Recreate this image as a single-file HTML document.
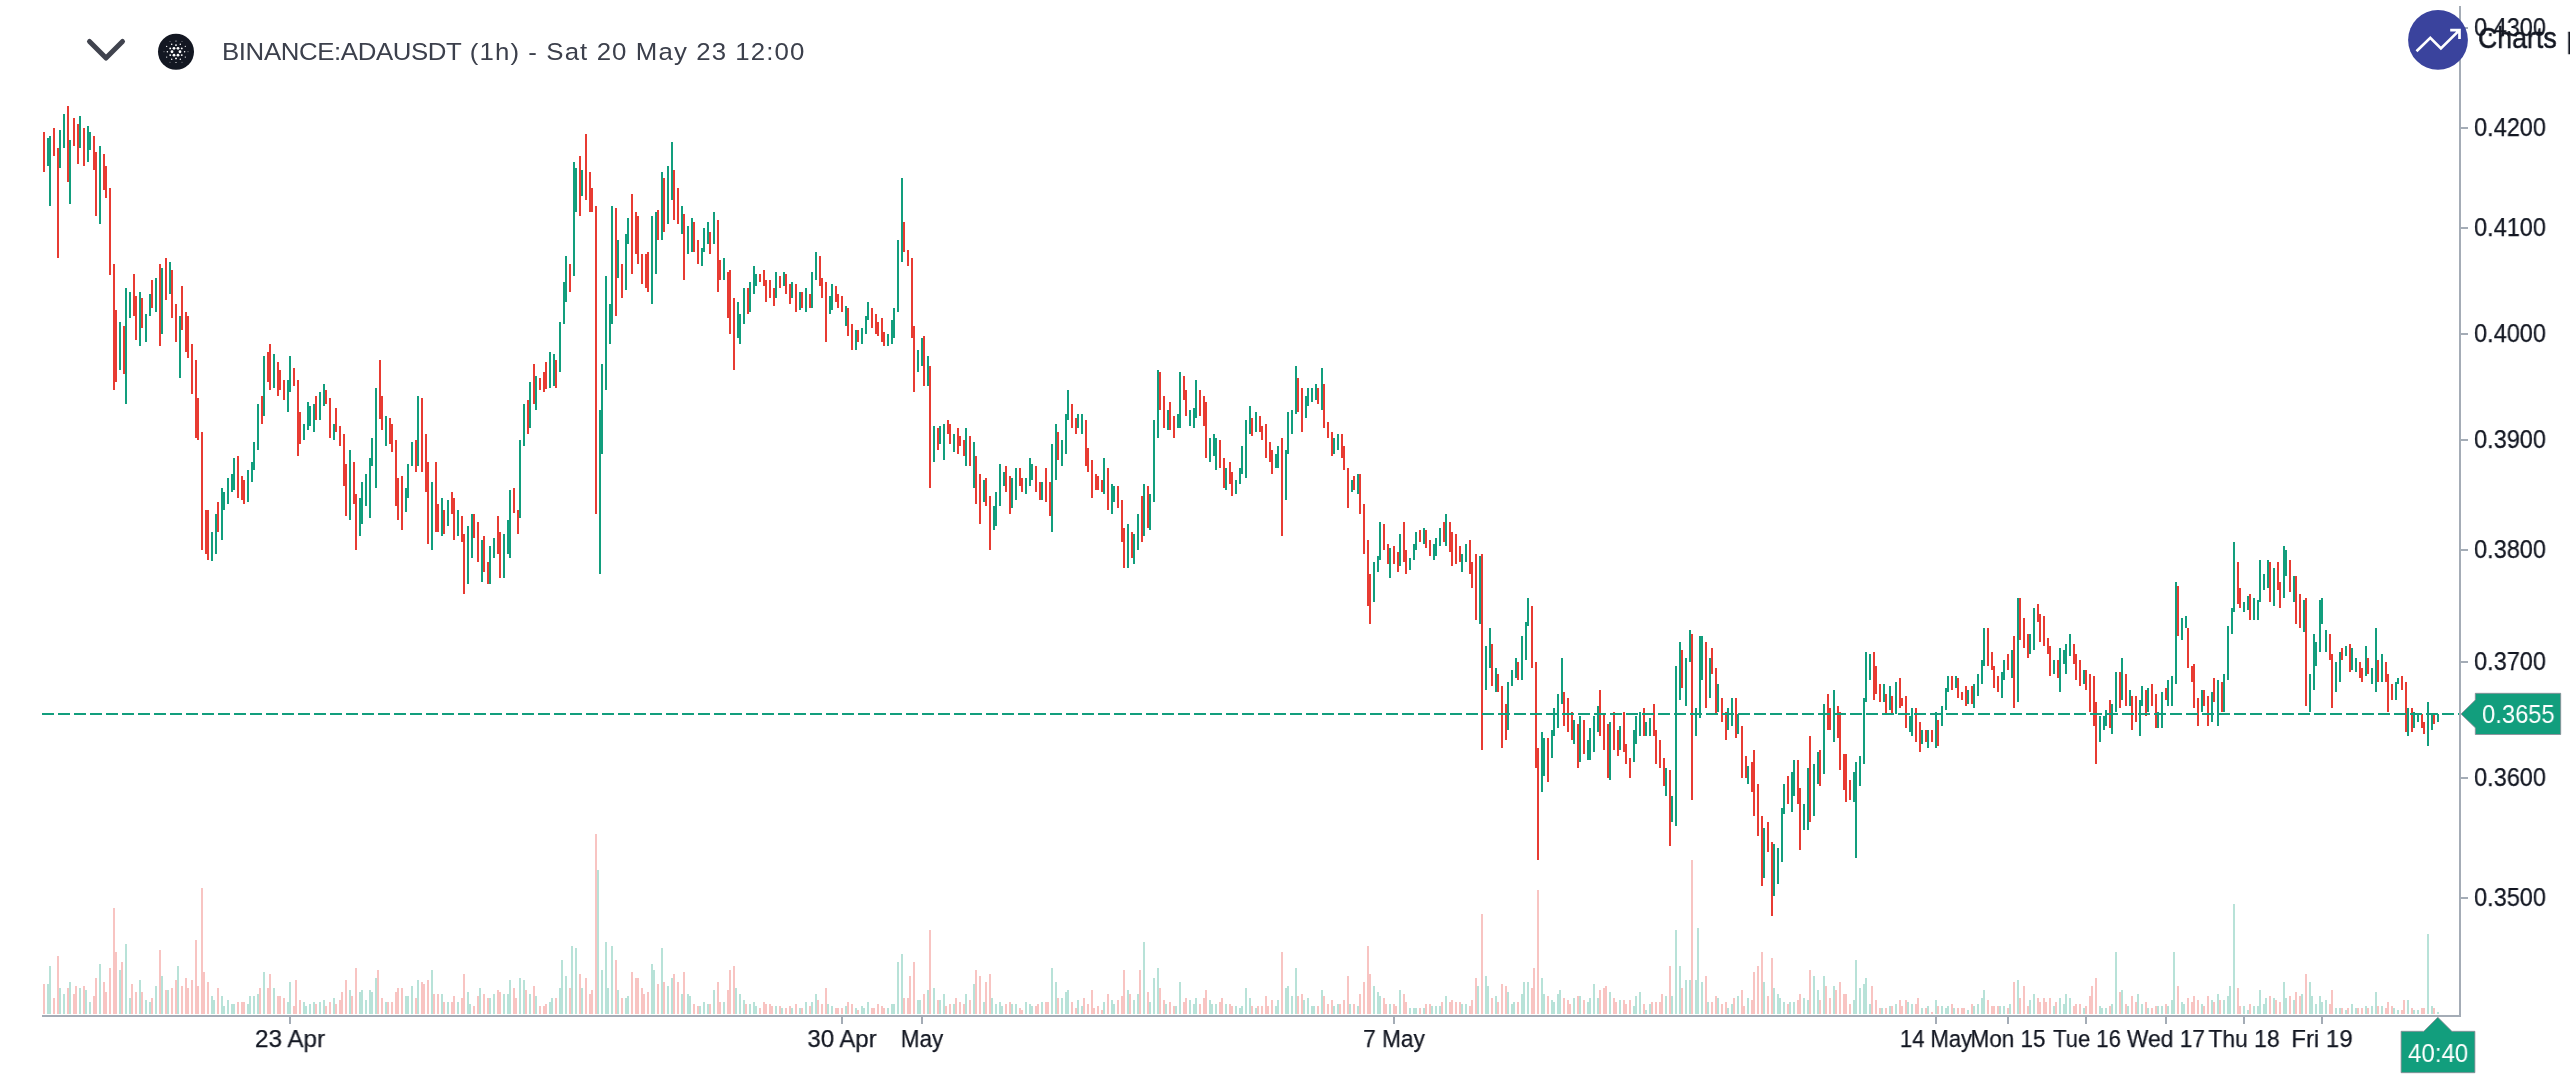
<!DOCTYPE html>
<html><head><meta charset="utf-8"><title>BINANCE:ADAUSDT</title>
<style>
html,body{margin:0;padding:0;background:#fff;}
body{width:2570px;height:1082px;position:relative;overflow:hidden;font-family:"Liberation Sans",sans-serif;color:#131722;}
.t{position:absolute;white-space:nowrap;line-height:1;will-change:transform;}
.yl{font-size:26px;left:2473.5px;transform-origin:0 50%;transform:scaleX(0.905);-webkit-text-stroke:0.25px #131722;}
.xl{font-size:24.5px;top:1027px;-webkit-text-stroke:0.25px #131722;}
#title{left:222px;top:40.3px;font-size:24.5px;color:#3c404c;letter-spacing:0.5px;transform-origin:0 0;transform:scaleX(1.054);}
#charts{left:2478px;top:23.2px;font-size:29.5px;color:#131722;word-spacing:2.8px;-webkit-text-stroke:0.55px #131722;transform-origin:0 50%;transform:scaleX(0.905);}
#plab{left:2481.5px;top:701.4px;font-size:26px;color:#fff;transform-origin:0 50%;transform:scaleX(0.914);}
#tlab{left:2407.8px;top:1040.4px;font-size:26px;color:#fff;transform-origin:0 50%;transform:scaleX(0.926);}
</style></head><body>
<svg width="2570" height="1082" viewBox="0 0 2570 1082" shape-rendering="crispEdges" style="position:absolute;left:0;top:0">
<path fill="#b8e2d8" d="M47 984h2V1014h-2zM49 966h2V1014h-2zM59 988h2V1014h-2zM63 994h2V1014h-2zM69 982h2V1014h-2zM79 988h2V1014h-2zM85 990h2V1014h-2zM89 1002h2V1014h-2zM99 964h2V1014h-2zM119 970h2V1014h-2zM125 944h2V1014h-2zM129 998h2V1014h-2zM139 980h2V1014h-2zM145 1000h2V1014h-2zM149 1002h2V1014h-2zM155 986h2V1014h-2zM161 976h2V1014h-2zM167 990h2V1014h-2zM177 966h2V1014h-2zM211 996h2V1014h-2zM213 1000h2V1014h-2zM221 996h2V1014h-2zM223 1006h2V1014h-2zM227 1000h2V1014h-2zM231 1004h2V1014h-2zM233 1004h2V1014h-2zM247 1004h2V1014h-2zM249 996h2V1014h-2zM253 996h2V1014h-2zM257 994h2V1014h-2zM263 972h2V1014h-2zM273 988h2V1014h-2zM287 1002h2V1014h-2zM289 982h2V1014h-2zM303 1002h2V1014h-2zM305 1006h2V1014h-2zM309 1004h2V1014h-2zM313 1002h2V1014h-2zM319 1002h2V1014h-2zM323 1000h2V1014h-2zM333 998h2V1014h-2zM349 990h2V1014h-2zM359 992h2V1014h-2zM361 990h2V1014h-2zM365 1000h2V1014h-2zM369 990h2V1014h-2zM371 992h2V1014h-2zM375 978h2V1014h-2zM385 1002h2V1014h-2zM405 996h2V1014h-2zM407 996h2V1014h-2zM411 986h2V1014h-2zM417 980h2V1014h-2zM431 970h2V1014h-2zM441 994h2V1014h-2zM447 1002h2V1014h-2zM457 1002h2V1014h-2zM467 992h2V1014h-2zM469 1004h2V1014h-2zM479 988h2V1014h-2zM489 998h2V1014h-2zM493 994h2V1014h-2zM503 994h2V1014h-2zM507 994h2V1014h-2zM509 980h2V1014h-2zM519 978h2V1014h-2zM523 980h2V1014h-2zM529 994h2V1014h-2zM535 996h2V1014h-2zM549 1002h2V1014h-2zM551 998h2V1014h-2zM559 988h2V1014h-2zM561 960h2V1014h-2zM565 976h2V1014h-2zM571 946h2V1014h-2zM575 948h2V1014h-2zM581 988h2V1014h-2zM597 870h2V1014h-2zM601 970h2V1014h-2zM605 942h2V1014h-2zM607 988h2V1014h-2zM611 946h2V1014h-2zM617 990h2V1014h-2zM625 998h2V1014h-2zM627 996h2V1014h-2zM651 964h2V1014h-2zM653 970h2V1014h-2zM661 948h2V1014h-2zM667 986h2V1014h-2zM671 978h2V1014h-2zM681 994h2V1014h-2zM687 994h2V1014h-2zM689 996h2V1014h-2zM699 1006h2V1014h-2zM703 1002h2V1014h-2zM707 1004h2V1014h-2zM713 990h2V1014h-2zM723 1002h2V1014h-2zM735 988h2V1014h-2zM739 994h2V1014h-2zM743 1000h2V1014h-2zM749 1004h2V1014h-2zM753 1002h2V1014h-2zM755 1006h2V1014h-2zM775 1006h2V1014h-2zM781 1008h2V1014h-2zM791 1008h2V1014h-2zM799 1008h2V1014h-2zM805 1002h2V1014h-2zM811 1002h2V1014h-2zM815 994h2V1014h-2zM827 1004h2V1014h-2zM831 1006h2V1014h-2zM845 1006h2V1014h-2zM855 1008h2V1014h-2zM861 1006h2V1014h-2zM863 1008h2V1014h-2zM867 1002h2V1014h-2zM887 1008h2V1014h-2zM891 1004h2V1014h-2zM893 1004h2V1014h-2zM897 962h2V1014h-2zM901 954h2V1014h-2zM917 1000h2V1014h-2zM919 1000h2V1014h-2zM927 990h2V1014h-2zM933 988h2V1014h-2zM939 1000h2V1014h-2zM943 994h2V1014h-2zM953 1004h2V1014h-2zM965 994h2V1014h-2zM973 984h2V1014h-2zM983 1002h2V1014h-2zM991 998h2V1014h-2zM995 1004h2V1014h-2zM999 1002h2V1014h-2zM1001 1006h2V1014h-2zM1011 1004h2V1014h-2zM1015 1004h2V1014h-2zM1025 1002h2V1014h-2zM1029 1004h2V1014h-2zM1031 1006h2V1014h-2zM1041 1002h2V1014h-2zM1051 968h2V1014h-2zM1055 982h2V1014h-2zM1061 998h2V1014h-2zM1065 992h2V1014h-2zM1067 990h2V1014h-2zM1077 1000h2V1014h-2zM1081 1006h2V1014h-2zM1103 1002h2V1014h-2zM1111 1000h2V1014h-2zM1113 1004h2V1014h-2zM1127 990h2V1014h-2zM1133 1000h2V1014h-2zM1137 994h2V1014h-2zM1143 942h2V1014h-2zM1149 1002h2V1014h-2zM1153 978h2V1014h-2zM1157 968h2V1014h-2zM1165 1004h2V1014h-2zM1175 1006h2V1014h-2zM1179 982h2V1014h-2zM1189 1000h2V1014h-2zM1193 1004h2V1014h-2zM1195 998h2V1014h-2zM1209 1000h2V1014h-2zM1211 1004h2V1014h-2zM1215 1004h2V1014h-2zM1225 1004h2V1014h-2zM1235 1006h2V1014h-2zM1239 1008h2V1014h-2zM1241 1006h2V1014h-2zM1245 988h2V1014h-2zM1249 998h2V1014h-2zM1255 1008h2V1014h-2zM1275 1006h2V1014h-2zM1277 1000h2V1014h-2zM1285 988h2V1014h-2zM1287 986h2V1014h-2zM1291 996h2V1014h-2zM1295 968h2V1014h-2zM1303 1000h2V1014h-2zM1307 998h2V1014h-2zM1311 1006h2V1014h-2zM1313 1006h2V1014h-2zM1321 990h2V1014h-2zM1333 1006h2V1014h-2zM1337 1004h2V1014h-2zM1349 1004h2V1014h-2zM1357 1006h2V1014h-2zM1373 986h2V1014h-2zM1377 992h2V1014h-2zM1379 996h2V1014h-2zM1389 1004h2V1014h-2zM1399 990h2V1014h-2zM1409 1008h2V1014h-2zM1413 1008h2V1014h-2zM1415 1008h2V1014h-2zM1423 1008h2V1014h-2zM1431 1006h2V1014h-2zM1435 1006h2V1014h-2zM1439 1006h2V1014h-2zM1445 996h2V1014h-2zM1461 1004h2V1014h-2zM1465 1004h2V1014h-2zM1477 986h2V1014h-2zM1485 976h2V1014h-2zM1487 986h2V1014h-2zM1495 996h2V1014h-2zM1507 992h2V1014h-2zM1511 1004h2V1014h-2zM1513 1002h2V1014h-2zM1521 994h2V1014h-2zM1523 982h2V1014h-2zM1527 982h2V1014h-2zM1541 978h2V1014h-2zM1543 994h2V1014h-2zM1551 1000h2V1014h-2zM1553 1002h2V1014h-2zM1557 994h2V1014h-2zM1559 990h2V1014h-2zM1573 998h2V1014h-2zM1579 996h2V1014h-2zM1587 1002h2V1014h-2zM1589 998h2V1014h-2zM1593 984h2V1014h-2zM1597 998h2V1014h-2zM1609 992h2V1014h-2zM1619 1000h2V1014h-2zM1633 1006h2V1014h-2zM1635 996h2V1014h-2zM1639 992h2V1014h-2zM1645 1010h2V1014h-2zM1649 1004h2V1014h-2zM1665 996h2V1014h-2zM1671 996h2V1014h-2zM1675 930h2V1014h-2zM1679 966h2V1014h-2zM1685 980h2V1014h-2zM1689 980h2V1014h-2zM1695 980h2V1014h-2zM1697 928h2V1014h-2zM1701 982h2V1014h-2zM1707 1002h2V1014h-2zM1717 998h2V1014h-2zM1727 1008h2V1014h-2zM1731 1004h2V1014h-2zM1737 996h2V1014h-2zM1747 998h2V1014h-2zM1763 982h2V1014h-2zM1773 988h2V1014h-2zM1777 994h2V1014h-2zM1779 998h2V1014h-2zM1783 1002h2V1014h-2zM1789 1002h2V1014h-2zM1793 1002h2V1014h-2zM1803 998h2V1014h-2zM1807 1000h2V1014h-2zM1813 976h2V1014h-2zM1817 990h2V1014h-2zM1823 976h2V1014h-2zM1833 986h2V1014h-2zM1853 1000h2V1014h-2zM1855 960h2V1014h-2zM1859 988h2V1014h-2zM1863 984h2V1014h-2zM1865 978h2V1014h-2zM1869 1004h2V1014h-2zM1881 1008h2V1014h-2zM1889 1006h2V1014h-2zM1895 1004h2V1014h-2zM1907 1002h2V1014h-2zM1911 1004h2V1014h-2zM1921 1008h2V1014h-2zM1927 1006h2V1014h-2zM1935 1000h2V1014h-2zM1941 1006h2V1014h-2zM1945 1008h2V1014h-2zM1947 1006h2V1014h-2zM1953 1008h2V1014h-2zM1967 1010h2V1014h-2zM1973 1006h2V1014h-2zM1977 1004h2V1014h-2zM1981 998h2V1014h-2zM1983 990h2V1014h-2zM1999 1006h2V1014h-2zM2003 1006h2V1014h-2zM2009 1004h2V1014h-2zM2017 980h2V1014h-2zM2029 1000h2V1014h-2zM2033 994h2V1014h-2zM2053 1006h2V1014h-2zM2059 998h2V1014h-2zM2063 1004h2V1014h-2zM2065 994h2V1014h-2zM2069 998h2V1014h-2zM2083 1008h2V1014h-2zM2099 1006h2V1014h-2zM2101 1008h2V1014h-2zM2105 1008h2V1014h-2zM2111 1004h2V1014h-2zM2115 952h2V1014h-2zM2121 990h2V1014h-2zM2127 1006h2V1014h-2zM2137 994h2V1014h-2zM2141 1004h2V1014h-2zM2147 1008h2V1014h-2zM2157 1006h2V1014h-2zM2161 1006h2V1014h-2zM2167 1006h2V1014h-2zM2171 1000h2V1014h-2zM2173 952h2V1014h-2zM2181 1002h2V1014h-2zM2183 1004h2V1014h-2zM2201 1004h2V1014h-2zM2211 1000h2V1014h-2zM2217 994h2V1014h-2zM2223 1000h2V1014h-2zM2227 996h2V1014h-2zM2229 986h2V1014h-2zM2233 904h2V1014h-2zM2243 1006h2V1014h-2zM2247 1010h2V1014h-2zM2253 1006h2V1014h-2zM2257 1006h2V1014h-2zM2259 990h2V1014h-2zM2263 1004h2V1014h-2zM2265 998h2V1014h-2zM2273 998h2V1014h-2zM2283 982h2V1014h-2zM2285 998h2V1014h-2zM2293 1000h2V1014h-2zM2301 994h2V1014h-2zM2309 982h2V1014h-2zM2311 996h2V1014h-2zM2315 1004h2V1014h-2zM2319 996h2V1014h-2zM2321 1002h2V1014h-2zM2325 1000h2V1014h-2zM2335 1008h2V1014h-2zM2339 1008h2V1014h-2zM2345 1010h2V1014h-2zM2351 1004h2V1014h-2zM2355 1008h2V1014h-2zM2365 1006h2V1014h-2zM2371 1006h2V1014h-2zM2375 992h2V1014h-2zM2381 1006h2V1014h-2zM2393 1008h2V1014h-2zM2397 1010h2V1014h-2zM2407 1000h2V1014h-2zM2413 1010h2V1014h-2zM2417 1010h2V1014h-2zM2427 934h2V1014h-2zM2431 1006h2V1014h-2zM2437 1012h2V1014h-2z"/>
<path fill="#f8c4c2" d="M43 984h2V1014h-2zM53 998h2V1014h-2zM57 956h2V1014h-2zM67 988h2V1014h-2zM73 994h2V1014h-2zM75 986h2V1014h-2zM83 986h2V1014h-2zM93 996h2V1014h-2zM95 978h2V1014h-2zM103 982h2V1014h-2zM105 992h2V1014h-2zM109 968h2V1014h-2zM113 908h2V1014h-2zM115 952h2V1014h-2zM121 962h2V1014h-2zM131 984h2V1014h-2zM135 992h2V1014h-2zM141 992h2V1014h-2zM151 998h2V1014h-2zM159 950h2V1014h-2zM165 990h2V1014h-2zM171 988h2V1014h-2zM175 980h2V1014h-2zM181 986h2V1014h-2zM185 978h2V1014h-2zM187 988h2V1014h-2zM191 980h2V1014h-2zM195 940h2V1014h-2zM197 986h2V1014h-2zM201 888h2V1014h-2zM203 972h2V1014h-2zM207 982h2V1014h-2zM217 988h2V1014h-2zM237 1002h2V1014h-2zM241 1002h2V1014h-2zM243 1002h2V1014h-2zM259 988h2V1014h-2zM267 988h2V1014h-2zM269 974h2V1014h-2zM277 996h2V1014h-2zM279 996h2V1014h-2zM283 998h2V1014h-2zM293 1006h2V1014h-2zM295 980h2V1014h-2zM299 1000h2V1014h-2zM315 1004h2V1014h-2zM325 1006h2V1014h-2zM329 1002h2V1014h-2zM335 1004h2V1014h-2zM339 1000h2V1014h-2zM341 992h2V1014h-2zM345 980h2V1014h-2zM351 996h2V1014h-2zM355 968h2V1014h-2zM377 970h2V1014h-2zM381 998h2V1014h-2zM387 1002h2V1014h-2zM391 1002h2V1014h-2zM395 992h2V1014h-2zM397 988h2V1014h-2zM401 988h2V1014h-2zM415 998h2V1014h-2zM421 982h2V1014h-2zM423 984h2V1014h-2zM427 980h2V1014h-2zM433 994h2V1014h-2zM437 994h2V1014h-2zM443 1002h2V1014h-2zM451 1002h2V1014h-2zM453 996h2V1014h-2zM461 998h2V1014h-2zM463 974h2V1014h-2zM473 1006h2V1014h-2zM477 996h2V1014h-2zM483 994h2V1014h-2zM487 998h2V1014h-2zM497 990h2V1014h-2zM499 992h2V1014h-2zM513 988h2V1014h-2zM515 998h2V1014h-2zM525 990h2V1014h-2zM533 986h2V1014h-2zM539 1006h2V1014h-2zM543 1006h2V1014h-2zM545 1004h2V1014h-2zM555 998h2V1014h-2zM569 988h2V1014h-2zM579 974h2V1014h-2zM585 978h2V1014h-2zM589 994h2V1014h-2zM591 990h2V1014h-2zM595 834h2V1014h-2zM615 960h2V1014h-2zM621 998h2V1014h-2zM631 972h2V1014h-2zM635 978h2V1014h-2zM637 978h2V1014h-2zM641 988h2V1014h-2zM643 994h2V1014h-2zM647 992h2V1014h-2zM657 984h2V1014h-2zM663 982h2V1014h-2zM673 974h2V1014h-2zM677 982h2V1014h-2zM683 972h2V1014h-2zM693 1004h2V1014h-2zM697 1006h2V1014h-2zM709 1004h2V1014h-2zM717 982h2V1014h-2zM719 1002h2V1014h-2zM727 990h2V1014h-2zM729 970h2V1014h-2zM733 966h2V1014h-2zM745 1004h2V1014h-2zM759 1008h2V1014h-2zM763 1002h2V1014h-2zM765 1004h2V1014h-2zM769 1004h2V1014h-2zM771 1006h2V1014h-2zM779 1006h2V1014h-2zM785 1008h2V1014h-2zM789 1006h2V1014h-2zM795 1004h2V1014h-2zM801 1008h2V1014h-2zM809 1006h2V1014h-2zM817 1000h2V1014h-2zM821 1004h2V1014h-2zM825 988h2V1014h-2zM835 1008h2V1014h-2zM837 1008h2V1014h-2zM841 1008h2V1014h-2zM847 1002h2V1014h-2zM851 1004h2V1014h-2zM857 1010h2V1014h-2zM871 1008h2V1014h-2zM873 1008h2V1014h-2zM877 1004h2V1014h-2zM881 1006h2V1014h-2zM883 1008h2V1014h-2zM903 998h2V1014h-2zM907 998h2V1014h-2zM909 976h2V1014h-2zM913 962h2V1014h-2zM923 994h2V1014h-2zM929 930h2V1014h-2zM937 1000h2V1014h-2zM945 1006h2V1014h-2zM949 1004h2V1014h-2zM955 998h2V1014h-2zM959 1002h2V1014h-2zM963 1004h2V1014h-2zM969 1000h2V1014h-2zM975 970h2V1014h-2zM979 976h2V1014h-2zM985 982h2V1014h-2zM989 974h2V1014h-2zM1005 1004h2V1014h-2zM1009 1002h2V1014h-2zM1019 1008h2V1014h-2zM1021 1010h2V1014h-2zM1035 1006h2V1014h-2zM1037 1004h2V1014h-2zM1045 1002h2V1014h-2zM1047 1002h2V1014h-2zM1057 998h2V1014h-2zM1071 1002h2V1014h-2zM1075 1008h2V1014h-2zM1083 998h2V1014h-2zM1087 1004h2V1014h-2zM1091 990h2V1014h-2zM1093 1008h2V1014h-2zM1097 1006h2V1014h-2zM1101 1010h2V1014h-2zM1107 994h2V1014h-2zM1117 1000h2V1014h-2zM1121 996h2V1014h-2zM1123 970h2V1014h-2zM1129 994h2V1014h-2zM1139 970h2V1014h-2zM1147 992h2V1014h-2zM1159 988h2V1014h-2zM1163 1000h2V1014h-2zM1169 1002h2V1014h-2zM1173 1006h2V1014h-2zM1183 1002h2V1014h-2zM1185 998h2V1014h-2zM1199 1004h2V1014h-2zM1203 998h2V1014h-2zM1205 990h2V1014h-2zM1219 1002h2V1014h-2zM1221 998h2V1014h-2zM1229 1004h2V1014h-2zM1231 1006h2V1014h-2zM1251 1006h2V1014h-2zM1257 1006h2V1014h-2zM1261 1006h2V1014h-2zM1265 996h2V1014h-2zM1267 1006h2V1014h-2zM1271 1000h2V1014h-2zM1281 952h2V1014h-2zM1297 996h2V1014h-2zM1301 994h2V1014h-2zM1317 1006h2V1014h-2zM1323 996h2V1014h-2zM1327 1004h2V1014h-2zM1331 1000h2V1014h-2zM1339 1004h2V1014h-2zM1343 1000h2V1014h-2zM1347 976h2V1014h-2zM1353 1004h2V1014h-2zM1359 994h2V1014h-2zM1363 982h2V1014h-2zM1367 946h2V1014h-2zM1369 974h2V1014h-2zM1383 998h2V1014h-2zM1385 1004h2V1014h-2zM1393 1004h2V1014h-2zM1395 1006h2V1014h-2zM1403 994h2V1014h-2zM1405 1002h2V1014h-2zM1419 1008h2V1014h-2zM1425 1004h2V1014h-2zM1429 1004h2V1014h-2zM1441 1002h2V1014h-2zM1449 1002h2V1014h-2zM1451 1000h2V1014h-2zM1455 1002h2V1014h-2zM1459 1002h2V1014h-2zM1469 1006h2V1014h-2zM1471 1000h2V1014h-2zM1475 978h2V1014h-2zM1481 914h2V1014h-2zM1491 998h2V1014h-2zM1497 1002h2V1014h-2zM1501 984h2V1014h-2zM1505 986h2V1014h-2zM1517 1002h2V1014h-2zM1531 988h2V1014h-2zM1533 968h2V1014h-2zM1537 890h2V1014h-2zM1547 996h2V1014h-2zM1563 998h2V1014h-2zM1567 1000h2V1014h-2zM1569 1004h2V1014h-2zM1577 996h2V1014h-2zM1583 1000h2V1014h-2zM1599 990h2V1014h-2zM1603 988h2V1014h-2zM1605 986h2V1014h-2zM1613 998h2V1014h-2zM1615 1002h2V1014h-2zM1623 1000h2V1014h-2zM1625 1004h2V1014h-2zM1629 1000h2V1014h-2zM1643 1004h2V1014h-2zM1651 1002h2V1014h-2zM1655 1002h2V1014h-2zM1659 1002h2V1014h-2zM1661 994h2V1014h-2zM1669 966h2V1014h-2zM1681 988h2V1014h-2zM1691 860h2V1014h-2zM1705 976h2V1014h-2zM1711 1002h2V1014h-2zM1715 996h2V1014h-2zM1721 1004h2V1014h-2zM1725 1002h2V1014h-2zM1733 998h2V1014h-2zM1741 990h2V1014h-2zM1743 1006h2V1014h-2zM1751 1000h2V1014h-2zM1753 972h2V1014h-2zM1757 966h2V1014h-2zM1761 952h2V1014h-2zM1767 996h2V1014h-2zM1771 958h2V1014h-2zM1787 1004h2V1014h-2zM1797 1000h2V1014h-2zM1799 994h2V1014h-2zM1809 970h2V1014h-2zM1819 1000h2V1014h-2zM1825 986h2V1014h-2zM1829 998h2V1014h-2zM1835 990h2V1014h-2zM1839 982h2V1014h-2zM1843 994h2V1014h-2zM1845 994h2V1014h-2zM1849 1004h2V1014h-2zM1871 986h2V1014h-2zM1875 1000h2V1014h-2zM1879 1008h2V1014h-2zM1885 1008h2V1014h-2zM1891 1006h2V1014h-2zM1899 1000h2V1014h-2zM1901 1006h2V1014h-2zM1905 1000h2V1014h-2zM1915 1004h2V1014h-2zM1917 998h2V1014h-2zM1925 1008h2V1014h-2zM1931 1012h2V1014h-2zM1937 1006h2V1014h-2zM1951 1004h2V1014h-2zM1957 1008h2V1014h-2zM1961 1008h2V1014h-2zM1963 1008h2V1014h-2zM1971 1004h2V1014h-2zM1987 1000h2V1014h-2zM1991 1006h2V1014h-2zM1993 1006h2V1014h-2zM1997 1006h2V1014h-2zM2007 1008h2V1014h-2zM2013 982h2V1014h-2zM2019 998h2V1014h-2zM2023 986h2V1014h-2zM2027 1006h2V1014h-2zM2037 998h2V1014h-2zM2039 1002h2V1014h-2zM2043 998h2V1014h-2zM2045 1002h2V1014h-2zM2049 998h2V1014h-2zM2055 1002h2V1014h-2zM2073 1006h2V1014h-2zM2075 1004h2V1014h-2zM2079 1004h2V1014h-2zM2085 1006h2V1014h-2zM2089 996h2V1014h-2zM2091 986h2V1014h-2zM2095 978h2V1014h-2zM2109 1006h2V1014h-2zM2119 992h2V1014h-2zM2125 1004h2V1014h-2zM2131 996h2V1014h-2zM2135 1002h2V1014h-2zM2145 1002h2V1014h-2zM2151 1008h2V1014h-2zM2155 1006h2V1014h-2zM2165 1004h2V1014h-2zM2177 986h2V1014h-2zM2187 998h2V1014h-2zM2191 1002h2V1014h-2zM2193 996h2V1014h-2zM2197 1000h2V1014h-2zM2203 1006h2V1014h-2zM2207 996h2V1014h-2zM2213 1002h2V1014h-2zM2219 1000h2V1014h-2zM2237 988h2V1014h-2zM2239 1006h2V1014h-2zM2249 1004h2V1014h-2zM2269 996h2V1014h-2zM2275 1000h2V1014h-2zM2279 1002h2V1014h-2zM2289 996h2V1014h-2zM2295 992h2V1014h-2zM2299 996h2V1014h-2zM2305 974h2V1014h-2zM2329 1004h2V1014h-2zM2331 990h2V1014h-2zM2341 1008h2V1014h-2zM2347 1008h2V1014h-2zM2357 1008h2V1014h-2zM2361 1008h2V1014h-2zM2367 1008h2V1014h-2zM2377 1006h2V1014h-2zM2385 1008h2V1014h-2zM2387 1002h2V1014h-2zM2391 1006h2V1014h-2zM2401 1010h2V1014h-2zM2403 1000h2V1014h-2zM2411 1008h2V1014h-2zM2421 1008h2V1014h-2zM2423 1008h2V1014h-2zM2433 1008h2V1014h-2z"/>
<path fill="#129e7d" d="M47 138h2V166h-2zM49 136h2V206h-2zM59 130h2V168h-2zM63 114h2V148h-2zM69 140h2V204h-2zM79 116h2V148h-2zM87 126h2V162h-2zM89 132h2V150h-2zM99 146h2V224h-2zM119 322h2V370h-2zM125 288h2V404h-2zM129 292h2V318h-2zM139 292h2V346h-2zM145 314h2V342h-2zM149 294h2V316h-2zM155 278h2V312h-2zM161 268h2V334h-2zM169 262h2V294h-2zM179 316h2V378h-2zM211 532h2V561h-2zM215 514h2V554h-2zM221 488h2V540h-2zM223 492h2V510h-2zM227 478h2V504h-2zM231 474h2V492h-2zM233 458h2V490h-2zM247 470h2V502h-2zM251 462h2V482h-2zM253 442h2V470h-2zM257 404h2V450h-2zM263 356h2V416h-2zM273 354h2V388h-2zM287 380h2V412h-2zM289 356h2V392h-2zM303 424h2V440h-2zM307 402h2V430h-2zM309 406h2V426h-2zM313 404h2V432h-2zM319 392h2V420h-2zM323 384h2V406h-2zM333 424h2V440h-2zM349 450h2V520h-2zM359 498h2V536h-2zM361 482h2V524h-2zM365 474h2V506h-2zM369 458h2V518h-2zM371 438h2V466h-2zM375 388h2V488h-2zM385 416h2V446h-2zM405 488h2V512h-2zM407 464h2V498h-2zM411 442h2V466h-2zM417 396h2V466h-2zM431 482h2V550h-2zM441 498h2V536h-2zM447 500h2V526h-2zM457 510h2V536h-2zM467 526h2V584h-2zM471 514h2V558h-2zM481 540h2V582h-2zM489 546h2V584h-2zM493 538h2V558h-2zM503 534h2V578h-2zM507 520h2V554h-2zM509 490h2V558h-2zM519 440h2V518h-2zM523 404h2V446h-2zM529 382h2V428h-2zM535 376h2V410h-2zM549 352h2V388h-2zM553 354h2V386h-2zM559 322h2V372h-2zM563 282h2V324h-2zM565 256h2V302h-2zM573 162h2V276h-2zM575 168h2V212h-2zM581 170h2V196h-2zM599 410h2V574h-2zM601 364h2V454h-2zM605 276h2V390h-2zM609 304h2V344h-2zM611 206h2V324h-2zM617 240h2V278h-2zM625 234h2V290h-2zM627 218h2V244h-2zM651 216h2V304h-2zM655 212h2V274h-2zM661 172h2V240h-2zM667 166h2V224h-2zM671 142h2V200h-2zM681 206h2V234h-2zM687 226h2V254h-2zM691 218h2V252h-2zM701 248h2V266h-2zM703 228h2V252h-2zM707 222h2V244h-2zM713 212h2V244h-2zM723 258h2V280h-2zM737 302h2V338h-2zM739 314h2V344h-2zM743 288h2V324h-2zM749 282h2V312h-2zM753 266h2V294h-2zM755 274h2V286h-2zM775 272h2V298h-2zM783 272h2V286h-2zM791 282h2V298h-2zM799 292h2V310h-2zM805 288h2V312h-2zM811 272h2V308h-2zM815 252h2V280h-2zM829 296h2V314h-2zM831 284h2V310h-2zM845 306h2V326h-2zM855 330h2V350h-2zM861 328h2V344h-2zM865 316h2V334h-2zM867 302h2V320h-2zM887 334h2V346h-2zM891 320h2V344h-2zM893 308h2V338h-2zM897 240h2V312h-2zM901 178h2V262h-2zM917 350h2V372h-2zM921 338h2V366h-2zM927 356h2V386h-2zM933 426h2V462h-2zM939 426h2V444h-2zM943 424h2V460h-2zM953 434h2V452h-2zM965 428h2V466h-2zM973 442h2V488h-2zM983 480h2V502h-2zM993 506h2V530h-2zM995 492h2V526h-2zM999 464h2V506h-2zM1003 472h2V486h-2zM1011 478h2V508h-2zM1015 468h2V500h-2zM1025 478h2V494h-2zM1029 458h2V486h-2zM1031 464h2V480h-2zM1041 482h2V500h-2zM1051 444h2V532h-2zM1055 424h2V480h-2zM1061 440h2V466h-2zM1065 414h2V454h-2zM1067 390h2V420h-2zM1077 414h2V428h-2zM1081 414h2V434h-2zM1103 458h2V494h-2zM1111 484h2V514h-2zM1113 486h2V502h-2zM1127 524h2V568h-2zM1133 534h2V564h-2zM1137 514h2V550h-2zM1143 484h2V536h-2zM1149 494h2V530h-2zM1153 420h2V502h-2zM1157 370h2V438h-2zM1167 410h2V430h-2zM1177 414h2V428h-2zM1179 372h2V428h-2zM1189 410h2V426h-2zM1193 408h2V428h-2zM1195 380h2V418h-2zM1209 438h2V462h-2zM1213 434h2V456h-2zM1215 438h2V470h-2zM1225 468h2V490h-2zM1235 480h2V494h-2zM1239 468h2V484h-2zM1241 446h2V474h-2zM1245 420h2V478h-2zM1249 406h2V434h-2zM1255 412h2V432h-2zM1275 454h2V468h-2zM1277 446h2V468h-2zM1285 450h2V500h-2zM1287 412h2V454h-2zM1291 410h2V434h-2zM1295 366h2V414h-2zM1305 396h2V418h-2zM1307 388h2V406h-2zM1311 388h2V402h-2zM1315 384h2V400h-2zM1321 368h2V410h-2zM1333 438h2V454h-2zM1337 434h2V450h-2zM1351 480h2V492h-2zM1357 474h2V494h-2zM1373 562h2V602h-2zM1377 556h2V572h-2zM1379 522h2V560h-2zM1389 548h2V578h-2zM1399 534h2V566h-2zM1409 558h2V570h-2zM1413 544h2V560h-2zM1415 532h2V550h-2zM1423 528h2V544h-2zM1433 544h2V560h-2zM1435 538h2V556h-2zM1439 528h2V546h-2zM1445 514h2V546h-2zM1461 554h2V572h-2zM1465 544h2V562h-2zM1479 556h2V624h-2zM1485 646h2V690h-2zM1489 628h2V668h-2zM1495 668h2V692h-2zM1507 682h2V730h-2zM1511 670h2V686h-2zM1515 658h2V678h-2zM1521 636h2V680h-2zM1525 622h2V660h-2zM1527 598h2V626h-2zM1541 732h2V792h-2zM1543 738h2V776h-2zM1551 730h2V758h-2zM1553 708h2V736h-2zM1557 694h2V728h-2zM1561 658h2V704h-2zM1573 720h2V744h-2zM1579 716h2V762h-2zM1587 740h2V760h-2zM1589 728h2V760h-2zM1593 716h2V752h-2zM1597 706h2V732h-2zM1609 722h2V780h-2zM1619 726h2V750h-2zM1633 730h2V762h-2zM1635 716h2V744h-2zM1639 712h2V736h-2zM1645 722h2V736h-2zM1649 718h2V736h-2zM1665 768h2V796h-2zM1671 796h2V822h-2zM1675 666h2V826h-2zM1679 642h2V700h-2zM1685 658h2V706h-2zM1689 630h2V662h-2zM1695 708h2V736h-2zM1699 636h2V718h-2zM1701 636h2V680h-2zM1709 658h2V698h-2zM1717 684h2V712h-2zM1727 708h2V730h-2zM1731 698h2V726h-2zM1737 714h2V734h-2zM1747 766h2V784h-2zM1763 828h2V878h-2zM1773 844h2V896h-2zM1777 848h2V884h-2zM1781 808h2V862h-2zM1783 784h2V814h-2zM1791 772h2V812h-2zM1793 760h2V796h-2zM1803 804h2V830h-2zM1807 768h2V830h-2zM1813 764h2V816h-2zM1817 752h2V784h-2zM1823 704h2V774h-2zM1833 690h2V742h-2zM1853 772h2V802h-2zM1855 762h2V858h-2zM1859 756h2V786h-2zM1863 698h2V764h-2zM1865 652h2V702h-2zM1869 654h2V680h-2zM1883 684h2V702h-2zM1889 686h2V710h-2zM1895 682h2V714h-2zM1909 716h2V732h-2zM1911 708h2V736h-2zM1921 730h2V744h-2zM1927 730h2V748h-2zM1935 712h2V748h-2zM1941 706h2V726h-2zM1945 688h2V710h-2zM1947 676h2V692h-2zM1955 676h2V688h-2zM1967 690h2V704h-2zM1973 684h2V708h-2zM1977 674h2V696h-2zM1981 660h2V684h-2zM1983 628h2V666h-2zM2001 672h2V698h-2zM2003 660h2V680h-2zM2011 650h2V678h-2zM2017 598h2V702h-2zM2029 634h2V654h-2zM2033 608h2V650h-2zM2053 660h2V674h-2zM2059 648h2V692h-2zM2063 650h2V664h-2zM2065 644h2V674h-2zM2069 634h2V656h-2zM2083 670h2V684h-2zM2099 716h2V742h-2zM2103 716h2V730h-2zM2105 710h2V726h-2zM2111 704h2V734h-2zM2115 672h2V712h-2zM2121 658h2V700h-2zM2129 690h2V706h-2zM2139 700h2V736h-2zM2141 686h2V706h-2zM2147 688h2V712h-2zM2157 712h2V728h-2zM2161 692h2V728h-2zM2167 680h2V706h-2zM2171 676h2V706h-2zM2175 582h2V684h-2zM2181 618h2V640h-2zM2185 616h2V628h-2zM2201 690h2V712h-2zM2211 692h2V722h-2zM2217 680h2V726h-2zM2223 674h2V712h-2zM2227 626h2V680h-2zM2231 608h2V634h-2zM2233 542h2V612h-2zM2243 602h2V612h-2zM2247 596h2V610h-2zM2253 598h2V620h-2zM2257 600h2V620h-2zM2259 560h2V602h-2zM2263 574h2V590h-2zM2267 560h2V588h-2zM2273 568h2V606h-2zM2283 546h2V598h-2zM2285 550h2V576h-2zM2293 576h2V602h-2zM2303 600h2V632h-2zM2309 674h2V712h-2zM2313 634h2V690h-2zM2315 642h2V666h-2zM2319 600h2V652h-2zM2321 598h2V624h-2zM2325 630h2V652h-2zM2335 662h2V692h-2zM2339 652h2V682h-2zM2345 646h2V656h-2zM2351 648h2V670h-2zM2355 658h2V672h-2zM2365 646h2V676h-2zM2371 668h2V684h-2zM2375 628h2V692h-2zM2381 654h2V682h-2zM2395 682h2V700h-2zM2397 678h2V684h-2zM2407 708h2V736h-2zM2413 712h2V728h-2zM2417 714h2V722h-2zM2427 702h2V746h-2zM2431 714h2V730h-2zM2437 714h2V722h-2z"/>
<path fill="#e83b32" d="M43 132h2V172h-2zM53 128h2V156h-2zM57 148h2V258h-2zM67 106h2V182h-2zM73 118h2V146h-2zM77 124h2V164h-2zM83 128h2V166h-2zM93 136h2V170h-2zM95 152h2V216h-2zM103 154h2V190h-2zM105 166h2V198h-2zM109 188h2V275h-2zM113 264h2V390h-2zM115 310h2V382h-2zM123 326h2V374h-2zM133 274h2V316h-2zM135 296h2V340h-2zM141 298h2V328h-2zM151 280h2V308h-2zM159 264h2V346h-2zM165 258h2V300h-2zM171 270h2V318h-2zM175 304h2V342h-2zM181 286h2V330h-2zM185 312h2V352h-2zM187 316h2V358h-2zM191 344h2V394h-2zM195 360h2V438h-2zM197 398h2V440h-2zM201 432h2V550h-2zM205 510h2V554h-2zM207 510h2V560h-2zM217 502h2V532h-2zM237 456h2V498h-2zM241 476h2V500h-2zM243 480h2V504h-2zM261 396h2V424h-2zM267 352h2V382h-2zM269 344h2V390h-2zM277 362h2V396h-2zM279 370h2V390h-2zM283 380h2V400h-2zM293 368h2V386h-2zM297 380h2V456h-2zM299 412h2V444h-2zM315 396h2V420h-2zM325 390h2V404h-2zM329 398h2V438h-2zM335 408h2V432h-2zM339 426h2V446h-2zM343 434h2V486h-2zM345 464h2V516h-2zM353 462h2V504h-2zM355 494h2V550h-2zM379 360h2V419h-2zM381 396h2V430h-2zM389 418h2V444h-2zM391 424h2V452h-2zM395 440h2V506h-2zM397 478h2V520h-2zM401 476h2V530h-2zM415 440h2V472h-2zM421 398h2V472h-2zM425 434h2V492h-2zM427 462h2V544h-2zM435 462h2V532h-2zM437 504h2V532h-2zM443 510h2V534h-2zM451 492h2V514h-2zM453 498h2V540h-2zM461 516h2V542h-2zM463 534h2V594h-2zM473 514h2V538h-2zM477 522h2V562h-2zM483 536h2V572h-2zM487 562h2V584h-2zM497 516h2V554h-2zM499 532h2V578h-2zM513 488h2V513h-2zM517 510h2V534h-2zM527 400h2V434h-2zM533 364h2V404h-2zM539 378h2V390h-2zM543 372h2V392h-2zM545 362h2V389h-2zM555 360h2V388h-2zM569 264h2V292h-2zM579 156h2V216h-2zM585 134h2V200h-2zM589 172h2V212h-2zM591 188h2V212h-2zM595 206h2V514h-2zM615 208h2V316h-2zM621 264h2V298h-2zM631 194h2V274h-2zM635 212h2V254h-2zM637 216h2V264h-2zM641 254h2V284h-2zM645 254h2V288h-2zM647 252h2V292h-2zM657 210h2V240h-2zM663 178h2V232h-2zM673 170h2V220h-2zM677 188h2V224h-2zM683 214h2V280h-2zM693 222h2V252h-2zM697 240h2V264h-2zM709 232h2V254h-2zM717 220h2V292h-2zM719 260h2V280h-2zM727 272h2V318h-2zM729 270h2V334h-2zM733 298h2V370h-2zM747 288h2V314h-2zM759 274h2V282h-2zM763 270h2V286h-2zM765 280h2V302h-2zM769 280h2V298h-2zM773 288h2V306h-2zM779 276h2V288h-2zM785 274h2V294h-2zM789 284h2V304h-2zM795 284h2V312h-2zM801 292h2V308h-2zM809 294h2V308h-2zM819 256h2V286h-2zM821 278h2V298h-2zM825 282h2V342h-2zM835 286h2V302h-2zM837 294h2V308h-2zM841 296h2V312h-2zM847 308h2V336h-2zM851 324h2V350h-2zM857 330h2V342h-2zM871 308h2V328h-2zM875 314h2V334h-2zM877 322h2V336h-2zM881 318h2V342h-2zM883 332h2V346h-2zM903 222h2V252h-2zM907 250h2V266h-2zM911 258h2V338h-2zM913 326h2V392h-2zM923 336h2V386h-2zM929 366h2V488h-2zM937 428h2V450h-2zM947 420h2V434h-2zM949 424h2V444h-2zM957 428h2V454h-2zM959 436h2V446h-2zM963 440h2V456h-2zM969 436h2V466h-2zM975 456h2V504h-2zM979 474h2V524h-2zM985 478h2V506h-2zM989 496h2V550h-2zM1005 466h2V492h-2zM1009 476h2V514h-2zM1019 468h2V486h-2zM1021 478h2V492h-2zM1035 466h2V492h-2zM1039 482h2V500h-2zM1045 468h2V502h-2zM1049 482h2V516h-2zM1057 432h2V460h-2zM1071 404h2V428h-2zM1075 418h2V434h-2zM1085 420h2V466h-2zM1087 448h2V472h-2zM1091 460h2V498h-2zM1095 474h2V490h-2zM1097 476h2V490h-2zM1101 480h2V492h-2zM1107 468h2V510h-2zM1117 486h2V508h-2zM1121 500h2V542h-2zM1123 528h2V568h-2zM1131 532h2V558h-2zM1141 496h2V542h-2zM1147 486h2V528h-2zM1159 372h2V410h-2zM1163 396h2V428h-2zM1169 402h2V430h-2zM1173 416h2V438h-2zM1183 376h2V400h-2zM1185 390h2V416h-2zM1199 390h2V416h-2zM1203 396h2V426h-2zM1205 402h2V458h-2zM1219 440h2V468h-2zM1223 458h2V488h-2zM1229 462h2V484h-2zM1231 472h2V496h-2zM1251 418h2V436h-2zM1259 416h2V432h-2zM1261 426h2V440h-2zM1265 424h2V458h-2zM1269 442h2V462h-2zM1271 450h2V474h-2zM1281 438h2V536h-2zM1297 378h2V412h-2zM1301 388h2V432h-2zM1317 388h2V404h-2zM1323 384h2V428h-2zM1327 422h2V438h-2zM1331 432h2V456h-2zM1341 434h2V458h-2zM1343 446h2V470h-2zM1347 468h2V508h-2zM1353 476h2V490h-2zM1359 474h2V514h-2zM1363 504h2V554h-2zM1367 540h2V606h-2zM1369 574h2V624h-2zM1383 524h2V550h-2zM1387 544h2V564h-2zM1393 546h2V564h-2zM1397 552h2V572h-2zM1403 522h2V562h-2zM1405 550h2V574h-2zM1419 530h2V542h-2zM1425 530h2V548h-2zM1429 540h2V556h-2zM1443 522h2V542h-2zM1449 522h2V552h-2zM1451 532h2V566h-2zM1455 534h2V564h-2zM1459 546h2V562h-2zM1469 540h2V574h-2zM1471 562h2V588h-2zM1475 554h2V620h-2zM1481 554h2V750h-2zM1491 644h2V686h-2zM1497 674h2V692h-2zM1501 686h2V748h-2zM1505 704h2V740h-2zM1517 662h2V680h-2zM1531 606h2V668h-2zM1535 662h2V768h-2zM1537 748h2V860h-2zM1547 738h2V782h-2zM1563 692h2V726h-2zM1567 698h2V732h-2zM1571 712h2V740h-2zM1577 724h2V768h-2zM1583 720h2V754h-2zM1599 690h2V736h-2zM1603 714h2V750h-2zM1607 724h2V778h-2zM1613 712h2V750h-2zM1617 730h2V756h-2zM1623 712h2V752h-2zM1625 744h2V764h-2zM1629 758h2V778h-2zM1643 708h2V736h-2zM1653 704h2V736h-2zM1655 730h2V764h-2zM1659 740h2V768h-2zM1663 758h2V786h-2zM1669 770h2V846h-2zM1681 650h2V688h-2zM1691 634h2V800h-2zM1705 642h2V708h-2zM1711 648h2V674h-2zM1715 668h2V714h-2zM1721 698h2V722h-2zM1725 712h2V740h-2zM1735 698h2V738h-2zM1741 726h2V778h-2zM1745 756h2V778h-2zM1751 762h2V792h-2zM1753 750h2V816h-2zM1757 784h2V836h-2zM1761 816h2V886h-2zM1767 822h2V852h-2zM1771 842h2V916h-2zM1787 776h2V804h-2zM1797 760h2V804h-2zM1799 788h2V850h-2zM1809 736h2V822h-2zM1819 750h2V786h-2zM1827 694h2V730h-2zM1829 708h2V730h-2zM1837 706h2V738h-2zM1839 712h2V770h-2zM1843 754h2V790h-2zM1845 754h2V802h-2zM1849 780h2V800h-2zM1873 652h2V700h-2zM1875 666h2V694h-2zM1879 684h2V702h-2zM1885 694h2V714h-2zM1891 696h2V714h-2zM1899 678h2V708h-2zM1901 698h2V706h-2zM1905 696h2V728h-2zM1915 708h2V742h-2zM1919 722h2V752h-2zM1925 730h2V742h-2zM1931 730h2V742h-2zM1937 720h2V746h-2zM1951 676h2V690h-2zM1957 678h2V698h-2zM1961 692h2V700h-2zM1965 686h2V706h-2zM1971 686h2V704h-2zM1987 628h2V666h-2zM1991 652h2V670h-2zM1993 666h2V688h-2zM1997 676h2V692h-2zM2007 654h2V670h-2zM2013 636h2V708h-2zM2019 598h2V640h-2zM2023 618h2V648h-2zM2027 634h2V658h-2zM2037 604h2V622h-2zM2039 614h2V642h-2zM2043 616h2V646h-2zM2047 638h2V654h-2zM2049 646h2V676h-2zM2057 660h2V678h-2zM2073 644h2V664h-2zM2075 654h2V680h-2zM2079 660h2V686h-2zM2085 670h2V690h-2zM2089 674h2V712h-2zM2093 676h2V726h-2zM2095 702h2V764h-2zM2109 700h2V728h-2zM2119 672h2V708h-2zM2125 674h2V706h-2zM2131 696h2V730h-2zM2135 696h2V722h-2zM2145 690h2V716h-2zM2151 684h2V706h-2zM2155 694h2V728h-2zM2165 688h2V700h-2zM2177 586h2V636h-2zM2187 628h2V668h-2zM2191 666h2V682h-2zM2193 664h2V708h-2zM2197 698h2V726h-2zM2203 690h2V706h-2zM2207 696h2V726h-2zM2213 678h2V702h-2zM2221 682h2V712h-2zM2237 562h2V604h-2zM2239 588h2V608h-2zM2249 594h2V620h-2zM2269 562h2V602h-2zM2277 562h2V590h-2zM2279 582h2V608h-2zM2289 560h2V592h-2zM2295 576h2V624h-2zM2299 594h2V628h-2zM2305 598h2V706h-2zM2329 634h2V660h-2zM2331 654h2V708h-2zM2341 648h2V660h-2zM2349 644h2V672h-2zM2359 662h2V678h-2zM2361 668h2V682h-2zM2367 658h2V674h-2zM2377 660h2V682h-2zM2385 662h2V682h-2zM2387 674h2V712h-2zM2391 684h2V700h-2zM2401 676h2V690h-2zM2405 682h2V732h-2zM2411 708h2V732h-2zM2421 714h2V728h-2zM2423 722h2V734h-2zM2433 714h2V724h-2z"/>
<path d="M42 714H2460" stroke="#129e7d" stroke-width="2" stroke-dasharray="12 4" fill="none"/>
<rect x="2459" y="6" width="2" height="1011" fill="#a4acb6"/>
<rect x="42" y="1015" width="2419" height="2" fill="#a4acb6"/>
<rect x="2461" y="27" width="7" height="2" fill="#a4acb6"/>
<rect x="2461" y="127" width="7" height="2" fill="#a4acb6"/>
<rect x="2461" y="227" width="7" height="2" fill="#a4acb6"/>
<rect x="2461" y="333" width="7" height="2" fill="#a4acb6"/>
<rect x="2461" y="439" width="7" height="2" fill="#a4acb6"/>
<rect x="2461" y="549" width="7" height="2" fill="#a4acb6"/>
<rect x="2461" y="661" width="7" height="2" fill="#a4acb6"/>
<rect x="2461" y="777" width="7" height="2" fill="#a4acb6"/>
<rect x="2461" y="897" width="7" height="2" fill="#a4acb6"/>
<rect x="289" y="1017" width="2" height="7" fill="#a4acb6"/>
<rect x="841" y="1017" width="2" height="7" fill="#a4acb6"/>
<rect x="921" y="1017" width="2" height="7" fill="#a4acb6"/>
<rect x="1393" y="1017" width="2" height="7" fill="#a4acb6"/>
<rect x="1935" y="1017" width="2" height="7" fill="#a4acb6"/>
<rect x="2007" y="1017" width="2" height="7" fill="#a4acb6"/>
<rect x="2085" y="1017" width="2" height="7" fill="#a4acb6"/>
<rect x="2165" y="1017" width="2" height="7" fill="#a4acb6"/>
<rect x="2243" y="1017" width="2" height="7" fill="#a4acb6"/>
<rect x="2321" y="1017" width="2" height="7" fill="#a4acb6"/>
</svg>
<svg width="2570" height="1082" viewBox="0 0 2570 1082" style="position:absolute;left:0;top:0">
<path d="M89.5 41.5L106 58L122.5 41.5" fill="none" stroke="#40434e" stroke-width="5" stroke-linecap="round" stroke-linejoin="round"/>
<circle cx="176" cy="51.75" r="18" fill="#131722"/>
<g fill="#fff"><circle cx="180.00" cy="51.75" r="1.4"/><circle cx="178.00" cy="55.21" r="1.4"/><circle cx="174.00" cy="55.21" r="1.4"/><circle cx="172.00" cy="51.75" r="1.4"/><circle cx="174.00" cy="48.29" r="1.4"/><circle cx="178.00" cy="48.29" r="1.4"/><circle cx="181.76" cy="55.08" r="0.95"/><circle cx="176.00" cy="58.40" r="0.95"/><circle cx="170.24" cy="55.08" r="0.95"/><circle cx="170.24" cy="48.42" r="0.95"/><circle cx="176.00" cy="45.10" r="0.95"/><circle cx="181.76" cy="48.42" r="0.95"/><circle cx="184.60" cy="51.75" r="0.75"/><circle cx="180.30" cy="59.20" r="0.75"/><circle cx="171.70" cy="59.20" r="0.75"/><circle cx="167.40" cy="51.75" r="0.75"/><circle cx="171.70" cy="44.30" r="0.75"/><circle cx="180.30" cy="44.30" r="0.75"/><circle cx="185.31" cy="57.12" r="0.62"/><circle cx="176.00" cy="62.50" r="0.62"/><circle cx="166.69" cy="57.12" r="0.62"/><circle cx="166.69" cy="46.38" r="0.62"/><circle cx="176.00" cy="41.00" r="0.62"/><circle cx="185.31" cy="46.37" r="0.62"/><circle cx="188.00" cy="51.75" r="0.45"/><circle cx="182.00" cy="62.14" r="0.45"/><circle cx="170.00" cy="62.14" r="0.45"/><circle cx="164.00" cy="51.75" r="0.45"/><circle cx="170.00" cy="41.36" r="0.45"/><circle cx="182.00" cy="41.36" r="0.45"/></g>
<circle cx="2438" cy="39.95" r="29.9" fill="#3a439d"/>
<path d="M2416.5 51.3L2430.3 37.9L2440.9 48.4L2459.2 30.4M2450.2 30.1H2459.5V38.9" fill="none" stroke="#fff" stroke-width="2.7" stroke-linejoin="miter"/>
<path d="M2461 714L2475.3 700V693.3H2560.7V734.5H2475.3V727.8Z" fill="#129e7d" stroke="#8f8896" stroke-width="1" stroke-opacity="0.8"/>
<path d="M2437.8 1017.3L2451.9 1031.3H2474.9V1072.7H2401.1V1031.3H2423.8Z" fill="#129e7d" stroke="#8f8896" stroke-width="1" stroke-opacity="0.8"/>
</svg>
<div class="t" id="title"><span style="letter-spacing:-0.37px">BINANCE:ADAUSDT</span><span style="letter-spacing:1.04px"> (1h) - Sat 20 May 23 12:00</span></div>
<div class="t yl" style="top:13.8px">0.4300</div>
<div class="t yl" style="top:113.8px">0.4200</div>
<div class="t yl" style="top:213.8px">0.4100</div>
<div class="t yl" style="top:319.8px">0.4000</div>
<div class="t yl" style="top:425.8px">0.3900</div>
<div class="t yl" style="top:535.8px">0.3800</div>
<div class="t yl" style="top:647.8px">0.3700</div>
<div class="t yl" style="top:763.8px">0.3600</div>
<div class="t yl" style="top:883.8px">0.3500</div>
<div class="t xl" style="left:289.9px;transform:translateX(-50%) scaleX(0.99)">23 Apr</div>
<div class="t xl" style="left:842.1px;transform:translateX(-50%) scaleX(0.976)">30 Apr</div>
<div class="t xl" style="left:921.9px;transform:translateX(-50%) scaleX(0.918)">May</div>
<div class="t xl" style="left:1393.9px;transform:translateX(-50%) scaleX(0.925)">7 May</div>
<div class="t xl" style="left:1935.8px;transform:translateX(-50%) scaleX(0.898)">14 May</div>
<div class="t xl" style="left:2007.6px;transform:translateX(-50%) scaleX(0.918)">Mon 15</div>
<div class="t xl" style="left:2086.9px;transform:translateX(-50%) scaleX(0.899)">Tue 16</div>
<div class="t xl" style="left:2166.3px;transform:translateX(-50%) scaleX(0.931)">Wed 17</div>
<div class="t xl" style="left:2244.1px;transform:translateX(-50%) scaleX(0.933)">Thu 18</div>
<div class="t xl" style="left:2321.8px;transform:translateX(-50%) scaleX(0.981)">Fri 19</div>
<div class="t" id="charts">Charts p</div>
<div class="t" id="plab">0.3655</div>
<div class="t" id="tlab">40:40</div>
</body></html>
